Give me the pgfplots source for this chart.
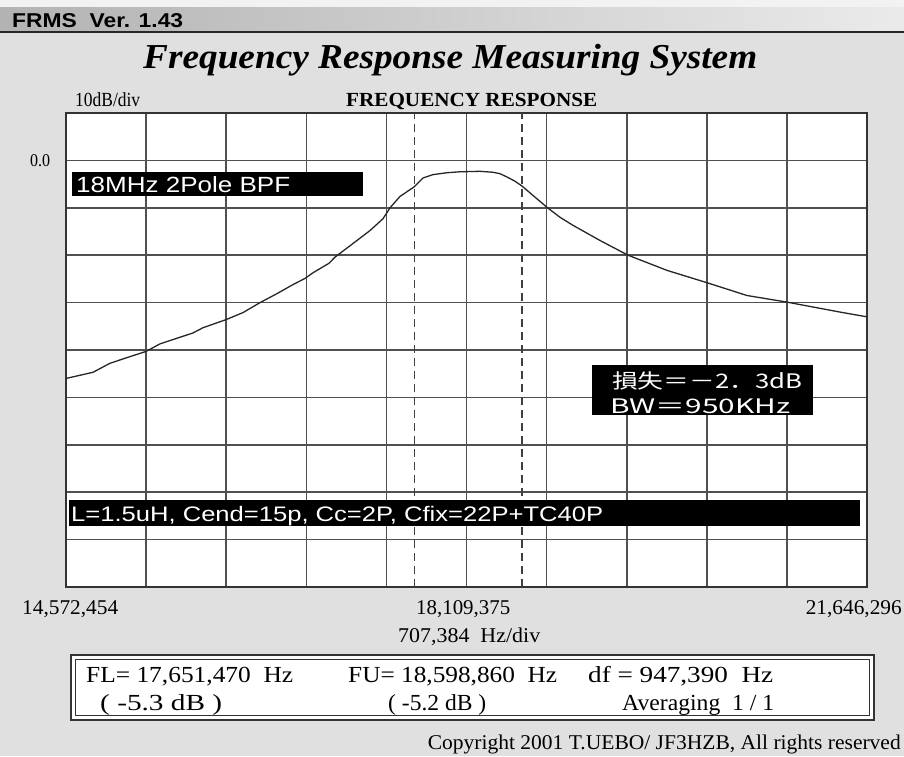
\documentclass[border=0pt]{standalone}
\usepackage{pgfplots}
\pgfplotsset{compat=1.18}
\usepackage{graphicx}
\usepackage{fontspec}
\setmainfont{Liberation Serif}
\newfontfamily\sansf{Liberation Sans}
\newfontfamily\cjk{Noto Sans CJK JP}
\definecolor{bg}{HTML}{E0E0E0}
\definecolor{gridc}{HTML}{505050}
\newcommand\fw[3]{\resizebox{#1pt}{\height}{\fontsize{#2}{#2}\selectfont #3}}
\pgfplotstableread{
f db
14.5725 -46.0
14.811 -44.7
14.961 -42.8
15.111 -41.6
15.279 -40.3
15.403 -38.7
15.694 -36.4
15.782 -35.3
15.985 -33.6
16.136 -32.1
16.286 -30.0
16.436 -28.1
16.577 -26.2
16.683 -24.9
16.754 -23.7
16.895 -21.7
16.948 -20.4
17.081 -18.0
17.257 -14.8
17.372 -12.3
17.434 -10.0
17.522 -7.6
17.646 -5.6
17.725 -3.7
17.814 -3.0
17.937 -2.6
18.052 -2.4
18.229 -2.3
18.343 -2.5
18.405 -2.8
18.467 -3.5
18.538 -4.4
18.599 -5.4
18.697 -7.4
18.820 -9.9
18.935 -12.0
19.050 -13.7
19.289 -16.9
19.536 -20.0
19.880 -23.2
20.233 -25.8
20.586 -28.5
20.940 -29.9
21.408 -32.0
21.646 -33.0
}\resp
\begin{document}
\begin{tikzpicture}[x=1pt,y=-1pt]
\useasboundingbox (0,0) rectangle (904,756);
\fill[bg] (0,0) rectangle (904,756);
\fill[white!95!black] (0,0) rectangle (904,7);
\shade[left color=black!30, right color=black!8] (0,7) rectangle (904,31);
\fill[black!85] (0,31) rectangle (904,33);
\node[anchor=base west, inner sep=0] at (12,27) {\fw{171}{20}{\sansf\bfseries FRMS\ \ Ver. 1.43}};
\node[anchor=base west, inner sep=0] at (143,68) {\fw{614}{35}{\bfseries\itshape Frequency Response Measuring System}};
\node[anchor=base west, inner sep=0] at (75,106) {\fw{65}{20}{10dB/div}};
\node[anchor=base west, inner sep=0] at (346,106) {\fw{251}{20}{\bfseries FREQUENCY RESPONSE}};
\node[anchor=base west, inner sep=0] at (30,166) {\fw{20}{18}{0.0}};
\begin{axis}[at={(66pt,-113pt)}, anchor=north west, scale only axis,
  width=801pt, height=474pt,
  xmin=14.572454, xmax=21.646296, ymin=-90, ymax=10,
  xtick={14.572454,15.279838,15.987222,16.694607,17.401991,18.109375,18.816759,19.524143,20.231528,20.938912,21.646296},
  ytick={-90,-80,-70,-60,-50,-40,-30,-20,-10,0,10},
  xticklabels={}, yticklabels={}, major tick length=0pt,
  grid=major, major grid style={line width=1.6pt, color=gridc},
  axis line style={line width=2pt, color=black!80},
  axis background/.style={fill=white},
  clip=false]
\addplot[dash pattern=on 8pt off 5pt, line width=1.2pt, color=black!75] coordinates {(17.65147,-90) (17.65147,10)};
\addplot[dash pattern=on 8pt off 5pt, line width=1.2pt, color=black!75] coordinates {(18.59886,-90) (18.59886,10)};
\addplot[line width=1.3pt, color=black!85] table[x=f,y=db] {\resp};
\end{axis}
\fill[black] (72,172) rectangle (363,196);
\node[anchor=base west, inner sep=0, text=white] at (76,192) {\fw{214}{22}{\sansf 18MHz 2Pole BPF}};
\fill[black] (592,365) rectangle (813,415);
\node[anchor=base west, inner sep=0, text=white] at (612,388) {\fw{190}{20}{\cjk 損失＝－2．3dB}};
\node[anchor=base west, inner sep=0, text=white] at (610,413) {\fw{180}{20}{\cjk BW＝950KHz}};
\fill[black] (69,500) rectangle (860,526);
\node[anchor=base west, inner sep=0, text=white] at (71,521) {\fw{532}{21}{\sansf L=1.5uH, Cend=15p, Cc=2P, Cfix=22P+TC40P}};
\node[anchor=base west, inner sep=0] at (22,614) {\fw{96}{21}{14,572,454}};
\node[anchor=base west, inner sep=0] at (416,614) {\fw{94}{21}{18,109,375}};
\node[anchor=base east, inner sep=0] at (902,614) {\fw{96}{21}{21,646,296}};
\node[anchor=base west, inner sep=0] at (398,642) {\fw{142}{21}{707,384\ \ Hz/div}};
\fill[white] (71,655) rectangle (874,720);
\draw[line width=1.2pt, black!80] (71,655) rectangle (874,720);
\draw[line width=1.8pt, black!80] (75.5,659.5) rectangle (869.5,715.5);
\node[anchor=base west, inner sep=0] at (86,682) {\fw{207}{23}{FL= 17,651,470\ \ Hz}};
\node[anchor=base west, inner sep=0] at (100,710) {\fw{122}{23}{( -5.3 dB )}};
\node[anchor=base west, inner sep=0] at (348,682) {\fw{209}{23}{FU= 18,598,860\ \ Hz}};
\node[anchor=base west, inner sep=0] at (388,710) {\fw{98}{23}{( -5.2 dB )}};
\node[anchor=base west, inner sep=0] at (588,682) {\fw{185}{23}{df = 947,390\ \ Hz}};
\node[anchor=base west, inner sep=0] at (622,710) {\fw{152}{23}{Averaging\ \ 1 / 1}};
\node[anchor=base east, inner sep=0] at (901,749) {\fw{473}{21}{Copyright 2001 T.UEBO/ JF3HZB, All rights reserved}};
\end{tikzpicture}
\end{document}
